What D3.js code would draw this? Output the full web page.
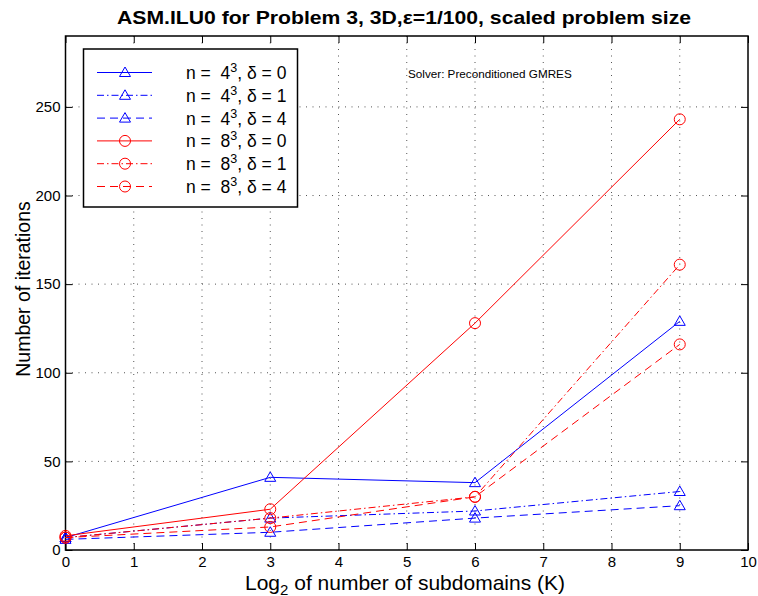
<!DOCTYPE html>
<html><head><meta charset="utf-8">
<script src="https://cdn.jsdelivr.net/npm/d3@7"></script>
<style>body{margin:0;background:#fff}text{font-family:"Liberation Sans",Arial,sans-serif}</style>
</head><body>
<script>
const xValues = [0, 3, 6, 9];
const seriesNames = ["4", "4", "4", "8", "8", "8"];
const deltas = ["0", "1", "4", "0", "1", "4"];
const s4d0 = [7, 41, 38, 129];
const s4d1 = [7, 18, 22, 33];
const s4d4 = [6, 10, 18, 25];
const s8d0 = [8, 23, 128, 243];
const s8d1 = [7, 18, 30, 161];
const s8d4 = [7, 13, 30, 116];
const xTicks = [0,1,2,3,4,5,6,7,8,9,10];
const yTicks = [0,50,100,150,200,250];

const series = [
  {vals:s4d0, color:"#0000ff", dash:null, marker:"tri"},
  {vals:s4d1, color:"#0000ff", dash:"7,3,1.5,3", marker:"tri"},
  {vals:s4d4, color:"#0000ff", dash:"8,5", marker:"tri"},
  {vals:s8d0, color:"#ff0000", dash:null, marker:"circ"},
  {vals:s8d1, color:"#ff0000", dash:"7,3,1.5,3", marker:"circ"},
  {vals:s8d4, color:"#ff0000", dash:"8,5", marker:"circ"}
];

const W=758,H=596;
const L=65.5,R=748,T=36,B=550;
const svg=d3.select("body").append("svg").attr("width",W).attr("height",H);
const x=d3.scaleLinear().domain([0,10]).range([L,R]);
const y=d3.scaleLinear().domain([0,290]).range([B,T]);

// grid
const g=svg.append("g");
g.selectAll("line.gx").data(xTicks.slice(1,-1)).join("line")
 .attr("x1",d=>x(d)).attr("x2",d=>x(d)).attr("y1",T).attr("y2",B)
 .attr("stroke","#555").attr("stroke-width",1).attr("stroke-dasharray","1,5.5");
g.selectAll("line.gy").data(yTicks.slice(1)).join("line")
 .attr("y1",d=>y(d)).attr("y2",d=>y(d)).attr("x1",L).attr("x2",R)
 .attr("stroke","#555").attr("stroke-width",1).attr("stroke-dasharray","1,5.5");

// axes
const tl=7;
const fam="Liberation Sans, Arial";
svg.append("g").attr("transform",`translate(0,${B})`)
 .call(d3.axisBottom(x).tickValues(xTicks).tickSize(-tl).tickPadding(6).tickFormat(d3.format("d")))
 .call(a=>{a.select(".domain").remove();a.selectAll("text").attr("font-size",15).attr("fill","#000").style("font-family",fam);a.selectAll("line").attr("stroke","#000");});
svg.append("g").attr("transform",`translate(0,${T})`)
 .call(d3.axisTop(x).tickValues(xTicks).tickSize(-tl).tickFormat(""))
 .call(a=>{a.select(".domain").remove();a.selectAll("line").attr("stroke","#000");});
svg.append("g").attr("transform",`translate(${L},0)`)
 .call(d3.axisLeft(y).tickValues(yTicks).tickSize(-tl).tickPadding(5).tickFormat(d3.format("d")))
 .call(a=>{a.select(".domain").remove();a.selectAll("text").attr("font-size",15).attr("fill","#000").style("font-family",fam);a.selectAll("line").attr("stroke","#000");});
svg.append("g").attr("transform",`translate(${R},0)`)
 .call(d3.axisRight(y).tickValues(yTicks).tickSize(-tl).tickFormat(""))
 .call(a=>{a.select(".domain").remove();a.selectAll("line").attr("stroke","#000");});
svg.append("rect").attr("x",L).attr("y",T).attr("width",R-L).attr("height",B-T)
 .attr("fill","none").attr("stroke","#000").attr("stroke-width",1.5);

// lines
const line=d3.line().x((d,i)=>x(xValues[i])).y(d=>y(d));
const triPath=(cx,cy)=>`M${cx},${cy-5.5}L${cx+5.5},${cy+4}L${cx-5.5},${cy+4}Z`;
function drawMarker(sel,type,cx,cy,color){
  if(type==="tri") sel.append("path").attr("d",triPath(cx,cy)).attr("fill","none").attr("stroke",color).attr("stroke-width",1);
  else sel.append("circle").attr("cx",cx).attr("cy",cy).attr("r",5.5).attr("fill","none").attr("stroke",color).attr("stroke-width",1);
}
series.forEach(s=>{
  svg.append("path").datum(s.vals).attr("d",line).attr("fill","none")
   .attr("stroke",s.color).attr("stroke-width",1).attr("stroke-dasharray",s.dash);
  const mg=svg.append("g");
  s.vals.forEach((v,i)=>drawMarker(mg,s.marker,x(xValues[i]),y(v),s.color));
});

// legend
const lg=svg.append("g");
lg.append("rect").attr("x",83.5).attr("y",49).attr("width",214).attr("height",158)
 .attr("fill","#fff").attr("stroke","#000").attr("stroke-width",1.5);
series.forEach((s,i)=>{
  const yy=72.5+i*22.8;
  lg.append("line").attr("x1",97).attr("x2",152).attr("y1",yy).attr("y2",yy)
   .attr("stroke",s.color).attr("stroke-width",1).attr("stroke-dasharray",s.dash);
  drawMarker(lg,s.marker,125,yy,s.color);
  const t=lg.append("text").attr("x",186).attr("y",yy+6.5).attr("font-size",17.5).attr("fill","#000").style("white-space","pre");
  t.append("tspan").text("n =  "+seriesNames[i]);
  t.append("tspan").attr("dy",-7).attr("font-size",12.5).text("3");
  t.append("tspan").attr("dy",7).text(", δ = "+deltas[i]);
});

svg.append("text").attr("x",408).attr("y",78).attr("font-size",11.7).text("Solver: Preconditioned GMRES");

// title & labels
svg.append("text").attr("x",404).attr("y",24).attr("text-anchor","middle")
 .attr("font-size",19).attr("font-weight","bold")
 .attr("textLength",574).attr("lengthAdjust","spacingAndGlyphs")
 .text("ASM.ILU0 for Problem 3, 3D,ε=1/100, scaled problem size");
const xl=svg.append("text").attr("x",405).attr("y",589.5).attr("text-anchor","middle").attr("font-size",21);
xl.append("tspan").text("Log");
xl.append("tspan").attr("dy",5).attr("font-size",15).text("2");
xl.append("tspan").attr("dy",-5).text(" of number of subdomains (K)");
svg.append("text").attr("transform","translate(30,289) rotate(-90)").attr("text-anchor","middle")
 .attr("font-size",19.5).text("Number of iterations");
</script>
</body></html>
